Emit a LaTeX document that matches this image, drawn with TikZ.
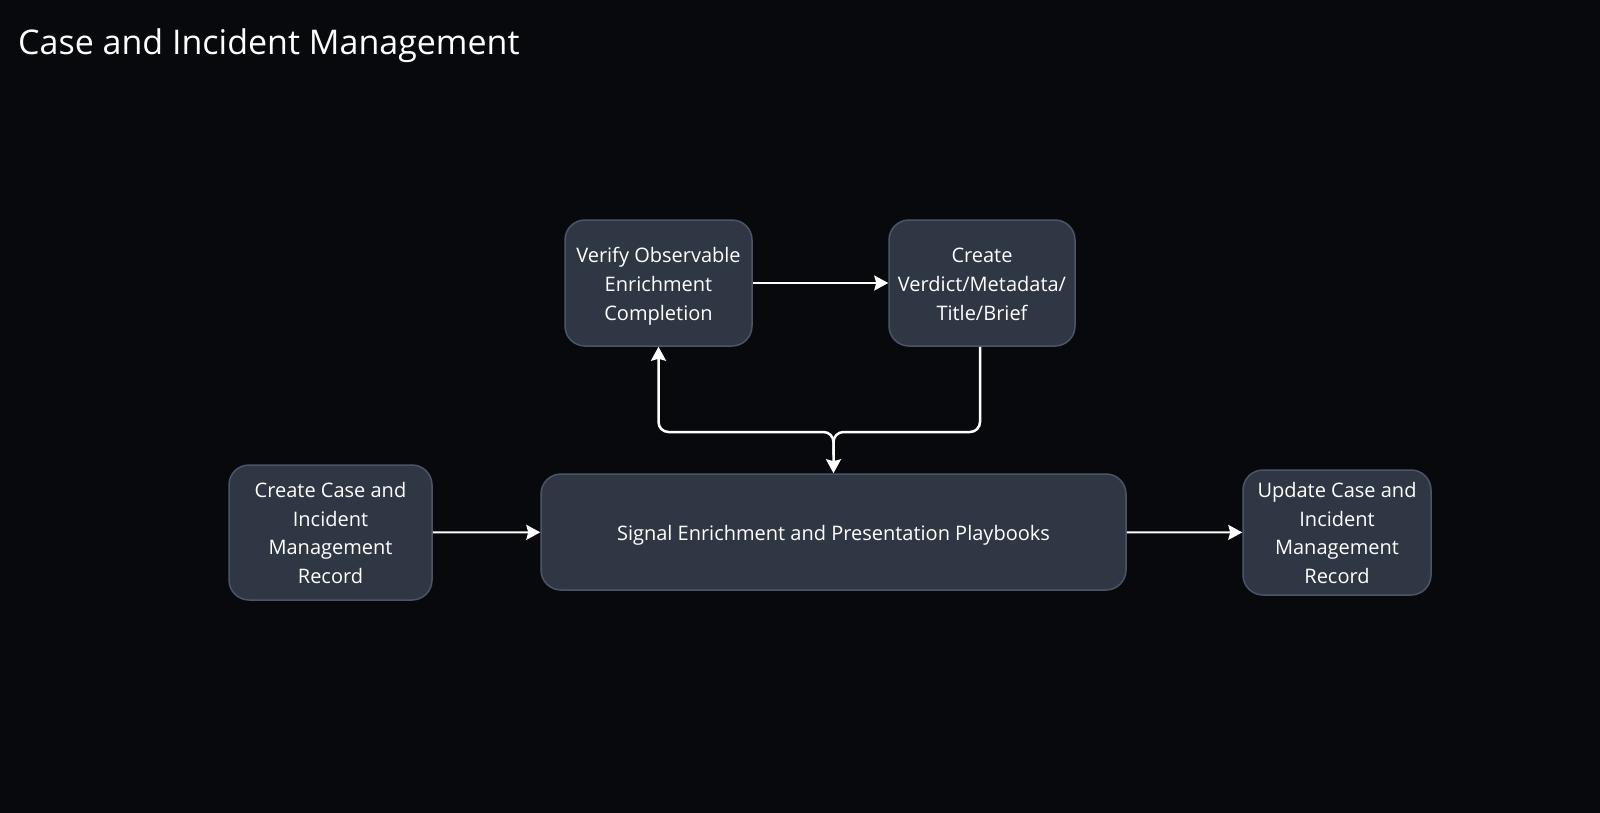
\documentclass[tikz,border=0pt]{standalone}
\usepackage{fontspec}
\setmainfont{Open Sans}
\usetikzlibrary{arrows.meta}
\definecolor{bg}{HTML}{08090C}
\definecolor{boxfill}{HTML}{303744}
\definecolor{boxline}{HTML}{4C5568}
\begin{document}
\begin{tikzpicture}[x=1pt,y=-1pt,
  box/.style={draw=boxline, fill=boxfill, line width=1.5pt, rounded corners=20pt, inner sep=0pt},
  boxtext/.style={text=white, align=center, font=\fontsize{20}{28.6}\selectfont, inner sep=0pt, yshift=-3.3pt},
  conn/.style={draw=white, line width=2pt, -{Stealth[length=14pt,width=15pt,inset=2pt]}},
  bentconn/.style={conn, line width=2.5pt, rounded corners=10pt}]
\fill[bg] (0,0) rectangle (1600,813);
\useasboundingbox (0,0) rectangle (1600,813);
\node[anchor=base west, text=white, font=\fontsize{34}{40}\selectfont, inner sep=0pt] (title) at (18,55) {Case and Incident Management};
\node[box, minimum width=187pt, minimum height=126pt, label={[boxtext]center:{Verify Observable\\Enrichment\\Completion}}] (verify) at (658.5,283) {};
\node[box, minimum width=186pt, minimum height=126pt, label={[boxtext, yshift=2pt]center:{Create\\Verdict/Metadata/\\Title/Brief}}] (verdict) at (982,283) {};
\node[box, minimum width=203pt, minimum height=135pt, label={[boxtext, yshift=3pt]center:{Create Case and\\Incident\\Management\\Record}}] (create) at (330.5,532.5) {};
\node[box, minimum width=585pt, minimum height=116pt, label={[boxtext]center:{Signal Enrichment and Presentation Playbooks}}] (signal) at (833.5,532) {};
\node[box, minimum width=188pt, minimum height=125pt, label={[boxtext, yshift=3pt]center:{Update Case and\\Incident\\Management\\Record}}] (update) at (1337,532.5) {};
\coordinate (j) at (833.5,432);
\coordinate (jd) at (833.5,455);
\draw[conn] (verify) -- (verdict);
\draw[conn] (create) -- (signal);
\draw[conn] (signal) -- (update);
\draw[bentconn] ([xshift=-2pt]verdict.south) |- (j) -- (signal.north);
\draw[bentconn] (jd) -- (j) -| (verify.south);
\end{tikzpicture}
\end{document}
